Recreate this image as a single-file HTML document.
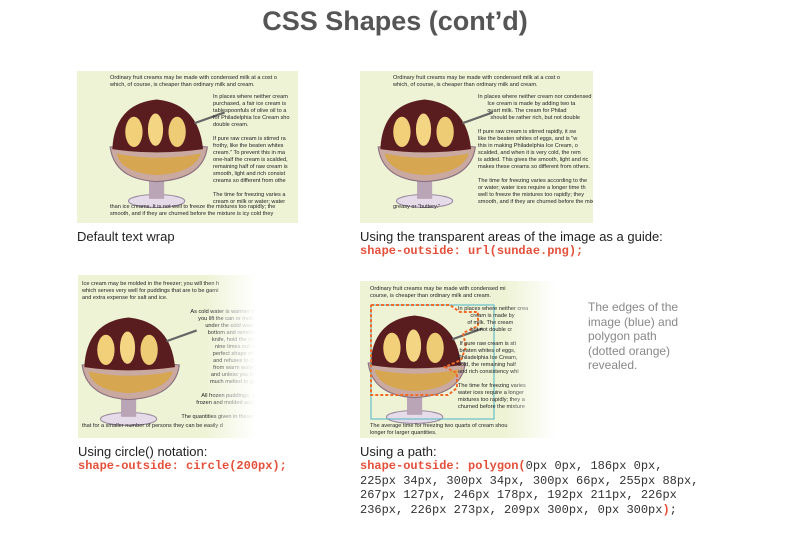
<!DOCTYPE html>
<html><head><meta charset="utf-8"><style>
body{margin:0;width:790px;height:543px;background:#fff;position:relative;overflow:hidden;font-family:"Liberation Sans",sans-serif}
.t{position:absolute;left:0;top:6px;width:790px;text-align:center;font-size:27px;font-weight:bold;color:#555}
.p{position:absolute;background:#eff3d6;overflow:hidden}
.fade:after{content:"";position:absolute;right:0;top:0;bottom:0;width:50px;background:linear-gradient(to right,rgba(255,255,255,0),#fff)}
.tx{position:absolute;font-size:5.6px;line-height:7px;color:#222;white-space:nowrap}
.cap{position:absolute;font-size:13px;color:#222}
.code{position:absolute;font-family:"Liberation Mono",monospace;font-size:12px;line-height:14.5px;color:#333;white-space:pre}
.o{color:#e4503a;font-weight:bold}
.side{position:absolute;left:588px;top:300px;font-size:12px;line-height:14.5px;color:#888}
</style></head><body>
<div class="t">CSS Shapes (cont’d)</div>

<svg width="0" height="0" style="position:absolute"><defs>
<g id="s" transform="scale(1.08)">
<ellipse cx="45" cy="100" rx="26" ry="6" fill="#e6dbe8" stroke="#998aa0"/>
<rect x="38" y="70" width="14" height="28" fill="#b9a5b5"/>
<path d="M2 50 Q45 45 92 50 Q88 80 45 82 Q6 80 2 50Z" fill="#c9a9a0" stroke="#8a7080"/>
<path d="M8 56 Q45 64 86 56 Q80 74 45 76 Q12 74 8 56Z" fill="#d6a650"/>
<path d="M4 52 Q6 10 45 6 Q84 10 88 52 Q45 58 4 52Z" fill="#5a1d1f"/>
<ellipse cx="24" cy="36" rx="8" ry="14" fill="#f2d07a"/>
<ellipse cx="44" cy="34" rx="7" ry="15" fill="#f3d584"/>
<ellipse cx="64" cy="36" rx="8" ry="14" fill="#eecb75"/>
<path d="M80 28 L108 18" stroke="#666" stroke-width="2"/>
</g></defs></svg>

<!-- top-left -->
<div class="p" style="left:77px;top:71px;width:221px;height:152px">
<svg style="position:absolute;left:31px;top:22px" width="125" height="115"><use href="#s"/></svg>
<div class="tx" style="left:33px;top:4px">Ordinary fruit creams may be made with condensed milk at a cost o<br>which, of course, is cheaper than ordinary milk and cream.</div>
<div class="tx" style="left:136px;top:23px">In places where neither cream<br>purchased, a fair ice cream is<br>tablespoonfuls of olive oil to a<br>for Philadelphia Ice Cream sho<br>double cream.<br><br>If pure raw cream is stirred ra<br>frothy, like the beaten whites<br>cream." To prevent this in ma<br>one-half the cream is scalded,<br>remaining half of raw cream is<br>smooth, light and rich consist<br>creams so different from othe<br><br>The time for freezing varies a<br>cream or milk or water; water</div>
<div class="tx" style="left:33px;top:133px">than ice creams. It is not well to freeze the mixtures too rapidly; the<br>smooth, and if they are churned before the mixture is icy cold they</div>
</div>
<div class="cap" style="left:77px;top:229px">Default text wrap</div>

<!-- top-right -->
<div class="p" style="left:360px;top:71px;width:233px;height:152px">
<svg style="position:absolute;left:16px;top:22px" width="125" height="115"><use href="#s"/></svg>
<div class="tx" style="left:33px;top:4px">Ordinary fruit creams may be made with condensed milk at a cost o<br>which, of course, is cheaper than ordinary milk and cream.</div>
<div class="tx" style="left:118px;top:23px">In places where neither cream nor condensed mi<br>&nbsp;&nbsp;&nbsp;&nbsp;&nbsp;&nbsp;Ice cream is made by adding two ta<br>&nbsp;&nbsp;&nbsp;&nbsp;&nbsp;&nbsp;quart milk. The cream for Philad<br>&nbsp;&nbsp;&nbsp;&nbsp;&nbsp;&nbsp;&nbsp;&nbsp;should be rather rich, but not double<br><br>If pure raw cream is stirred rapidly, it sw<br>like the beaten whites of eggs, and is "w<br>this in making Philadelphia Ice Cream, o<br>scalded, and when it is very cold, the rem<br>is added. This gives the smooth, light and ric<br>makes these creams so different from others.<br><br>The time for freezing varies according to the<br>or water; water ices require a longer time th<br>well to freeze the mixtures too rapidly; they<br>smooth, and if they are churned before the mixtu</div>
<div class="tx" style="left:33px;top:133px">greasy or "buttery."</div>
</div>
<div class="cap" style="left:360px;top:229px">Using the transparent areas of the image as a guide:</div>
<div class="code" style="left:360px;top:244px"><span class="o">shape-outside: url(sundae.png);</span></div>

<!-- bottom-left -->
<div class="p fade" style="left:78px;top:275px;width:178px;height:163px">
<svg style="position:absolute;left:2px;top:36px" width="125" height="120"><use href="#s"/></svg>
<div class="tx" style="left:4px;top:6px">Ice cream may be molded in the freezer; you will then h<br>which serves very well for puddings that are to be garni<br>and extra expense for salt and ice.</div>
<div class="tx" style="left:88px;top:34px;text-align:right;width:90px">As cold water is warmer th<br>you lift the can or mold,<br>under the cold water<br>bottom and remove<br>knife, hold the mo<br>nine times out of<br>perfect shape of t<br>and refuses to co<br>from warm water,<br>and unless you kn<br>much melted to ga<br><br>All frozen puddings, w<br>frozen and molded acco<br><br>The quantities given in these r</div>
<div class="tx" style="left:4px;top:148px">that for a smaller number of persons they can be easily d</div>
</div>
<div class="cap" style="left:78px;top:444px">Using circle() notation:</div>
<div class="code" style="left:78px;top:459px"><span class="o">shape-outside: circle(200px);</span></div>

<!-- bottom-right -->
<div class="p fade" style="left:360px;top:281px;width:196px;height:157px">
<svg style="position:absolute;left:6px;top:28px" width="125" height="120"><use href="#s"/></svg>
<svg style="position:absolute;left:0;top:0" width="196" height="157">
<rect x="11" y="24" width="123" height="114" fill="none" stroke="#4bb7c6" stroke-width="1"/>
<polyline points="11,24 90,24 100,31 118,31 118,45 103,52 106,66 101,79 85,86 97,92 97,107 88,114 11,114 11,24" fill="none" stroke="#f06a2a" stroke-width="2" stroke-dasharray="3,2"/>
</svg>
<div class="tx" style="left:10px;top:5px">Ordinary fruit creams may be made with condensed mi<br>course, is cheaper than ordinary milk and cream.</div>
<div class="tx" style="left:98px;top:25px">In places where neither crea<br>&nbsp;&nbsp;&nbsp;&nbsp;&nbsp;&nbsp;&nbsp;&nbsp;cream is made by<br>&nbsp;&nbsp;&nbsp;&nbsp;&nbsp;&nbsp;of milk. The cream<br>&nbsp;&nbsp;&nbsp;&nbsp;&nbsp;&nbsp;&nbsp;&nbsp;but not double cr<br><br>&nbsp;If pure raw cream is sti<br>&nbsp;beaten whites of eggs,<br>Philadelphia Ice Cream,<br>cold, the remaining half<br>and rich consistency whi<br><br>The time for freezing varies<br>water ices require a longer<br>mixtures too rapidly; they a<br>churned before the mixture</div>
<div class="tx" style="left:10px;top:142px">The average time for freezing two quarts of cream shou<br>longer for larger quantities.</div>
</div>
<div class="side">The edges of the<br>image (blue) and<br>polygon path<br>(dotted orange)<br>revealed.</div>
<div class="cap" style="left:360px;top:444px">Using a path:</div>
<div class="code" style="left:360px;top:459px"><span class="o">shape-outside: polygon(</span>0px 0px, 186px 0px,
225px 34px, 300px 34px, 300px 66px, 255px 88px,
267px 127px, 246px 178px, 192px 211px, 226px
236px, 226px 273px, 209px 300px, 0px 300px<span class="o">)</span>;</div>
</body></html>
